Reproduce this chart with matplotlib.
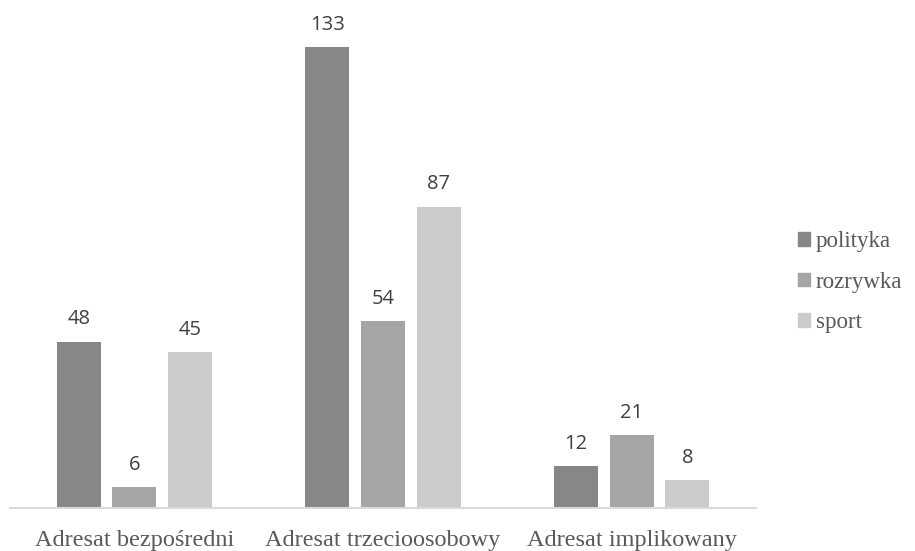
import numpy as np
import matplotlib
matplotlib.use("Agg")
import matplotlib.pyplot as plt
from matplotlib.patches import Patch

# Liczba wystąpień adresata w poszczególnych typach tekstów
categories = ["Adresat bezpośredni", "Adresat trzecioosobowy", "Adresat implikowany"]
series = ["polityka", "rozrywka", "sport"]
polityka = [48, 133, 12]
rozrywka = [6, 54, 21]
sport = [45, 87, 8]
values = [polityka, rozrywka, sport]
colors = ["#878787", "#a5a5a5", "#cbcbcb"]

fig = plt.figure(figsize=(9.15, 5.51), dpi=100)
ax = fig.add_axes([10/915, 43/551, 746/915, 485/551])

x = np.arange(len(categories))
w = 0.177
step = 0.224
for i, (vals, c) in enumerate(zip(values, colors)):
    pos = x + (i - 1) * step
    bars = ax.bar(pos, vals, width=w, color=c, zorder=2)
    for b, v in zip(bars, vals):
        ax.annotate(str(v), (b.get_x() + b.get_width() / 2, v),
                    xytext=(0, 12.5), textcoords="offset points",
                    ha="center", va="baseline", fontsize=14.5,
                    color="#404040", family="Open Sans")

ax.set_xlim(-0.5, 2.5)
ax.set_ylim(0, 140)
for s in ["top", "right", "left"]:
    ax.spines[s].set_visible(False)
ax.spines["bottom"].set_color("#d9d9d9")
ax.spines["bottom"].set_linewidth(1.5)
ax.set_yticks([])
ax.set_xticks(x)
ax.set_xticklabels(categories, fontsize=17.5, color="#595959",
                   family="Liberation Serif")
ax.tick_params(axis="x", length=0, pad=15.5)

handles = [Patch(color=c, label=s) for c, s in zip(colors, series)]
fig.legend(handles=handles, loc="center left", bbox_to_anchor=(777/915, 0.488),
           frameon=False, prop={"family": "Liberation Serif", "size": 16.5},
           labelcolor="#595959", handlelength=0.55, handleheight=0.55,
           handletextpad=0.25, labelspacing=0.85)

fig.savefig("out.png", dpi=100)
